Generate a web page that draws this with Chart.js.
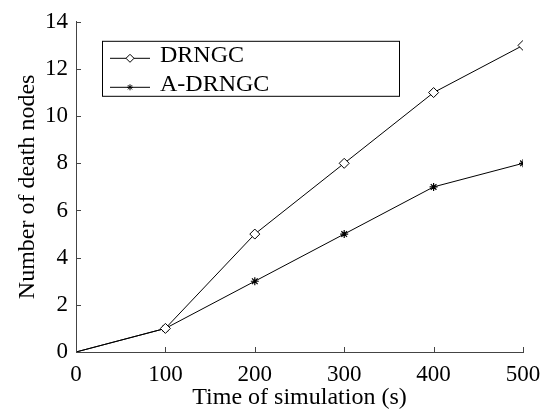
<!DOCTYPE html>
<html>
<head>
<meta charset="utf-8">
<script src="https://cdn.jsdelivr.net/npm/chart.js@4/dist/chart.umd.min.js"></script>
<style>
  html, body { margin: 0; padding: 0; background: #fff; }
  #wrap { width: 555px; height: 416px; }
</style>
</head>
<body>
<div id="wrap"><canvas id="chart" width="555" height="416"></canvas></div>
<script>
const times = [0, 100, 200, 300, 400, 500]
const drngc = [0, 1, 5, 8, 11, 13]
const aDrngc = [0, 1, 3, 5, 7, 8]
const seriesNames = ['DRNGC', 'A-DRNGC']
const xTitle = 'Time of simulation (s)'
const yTitle = 'Number of death nodes'

const serif = "'Liberation Serif', 'Times New Roman', serif"

// inward tick marks, like the original plot
const innerTicks = {
  id: 'innerTicks',
  afterDraw(chart) {
    const { ctx, chartArea, scales } = chart
    ctx.save()
    ctx.strokeStyle = '#444'
    ctx.lineWidth = 1
    ctx.beginPath()
    scales.x.ticks.forEach((t) => {
      const px = Math.round(scales.x.getPixelForValue(t.value)) + 0.5
      ctx.moveTo(px, chartArea.bottom)
      ctx.lineTo(px, chartArea.bottom - 5)
    })
    scales.y.ticks.forEach((t) => {
      const py = Math.round(scales.y.getPixelForValue(t.value)) + 0.5
      ctx.moveTo(chartArea.left, py)
      ctx.lineTo(chartArea.left + 5, py)
    })
    ctx.stroke()
    ctx.restore()
  },
}

// boxed legend inside the plot area
const boxLegend = {
  id: 'boxLegend',
  afterDraw(chart) {
    const { ctx, chartArea } = chart
    const x0 = chartArea.left + 26
    const y0 = chartArea.top + 19
    const w = 297
    const h = 55
    ctx.save()
    ctx.strokeStyle = '#000'
    ctx.lineWidth = 1
    ctx.strokeRect(x0 + 0.5, y0 + 0.5, w, h)
    const rows = [y0 + 17, y0 + 46]
    chart.data.datasets.forEach((ds, i) => {
      const ly = rows[i] + 0.5
      ctx.beginPath()
      ctx.strokeStyle = '#000'
      ctx.moveTo(x0 + 8, ly)
      ctx.lineTo(x0 + 48, ly)
      ctx.stroke()
      ctx.fillStyle = '#fff'
      ctx.strokeStyle = '#000'
      Chart.helpers.drawPoint(ctx, {
        pointStyle: ds.pointStyle,
        radius: i === 0 ? 4 : 3,
        rotation: 0,
        borderWidth: 1,
      }, x0 + 28, ly)
      ctx.fillStyle = '#000'
      ctx.font = '24px ' + serif
      ctx.textBaseline = 'middle'
      ctx.textAlign = 'left'
      ctx.fillText(seriesNames[i], x0 + 58, rows[i] - 2)
    })
    ctx.restore()
  },
}

// the plot starts at the origin without a marker
const markerSize = (size) => (c) => (c.dataIndex === 0 ? 0 : size)

const ctx = document.getElementById('chart').getContext('2d')

new Chart(ctx, {
  type: 'line',
  data: {
    datasets: [
      {
        label: seriesNames[0],
        data: times.map((t, i) => ({ x: t, y: drngc[i] })),
        borderColor: '#000',
        backgroundColor: '#fff',
        borderWidth: 1,
        pointStyle: 'rectRot',
        pointRadius: markerSize(5),
        pointBorderWidth: 1,
        tension: 0,
      },
      {
        label: seriesNames[1],
        data: times.map((t, i) => ({ x: t, y: aDrngc[i] })),
        borderColor: '#000',
        backgroundColor: '#000',
        borderWidth: 1,
        pointStyle: 'star',
        pointRadius: markerSize(4),
        pointBorderWidth: 1.2,
        tension: 0,
      },
    ],
  },
  options: {
    responsive: false,
    animation: false,
    layout: { padding: { top: 17, right: 32, left: 0, bottom: 0 } },
    plugins: {
      legend: { display: false },
      tooltip: { enabled: false },
    },
    scales: {
      x: {
        type: 'linear',
        min: 0,
        max: 500,
        afterFit: (scale) => { scale.height = 64 },
        ticks: {
          stepSize: 100,
          color: '#000',
          padding: 9,
          maxRotation: 0,
          font: { family: serif, size: 23 },
        },
        grid: { drawOnChartArea: false, drawTicks: false },
        border: { color: '#444', width: 1 },
        title: {
          display: true,
          text: xTitle,
          color: '#000',
          font: { family: serif, size: 24 },
          padding: { top: 0, bottom: 4 },
        },
      },
      y: {
        min: 0,
        max: 14,
        afterFit: (scale) => { scale.width = 76 },
        ticks: {
          stepSize: 2,
          color: '#000',
          padding: 8,
          font: { family: serif, size: 23 },
        },
        grid: { drawOnChartArea: false, drawTicks: false },
        border: { color: '#444', width: 1 },
        title: {
          display: true,
          text: yTitle,
          color: '#000',
          font: { family: serif, size: 24 },
          padding: { top: 13, bottom: 0 },
        },
      },
    },
  },
  plugins: [innerTicks, boxLegend],
})
</script>
</body>
</html>
